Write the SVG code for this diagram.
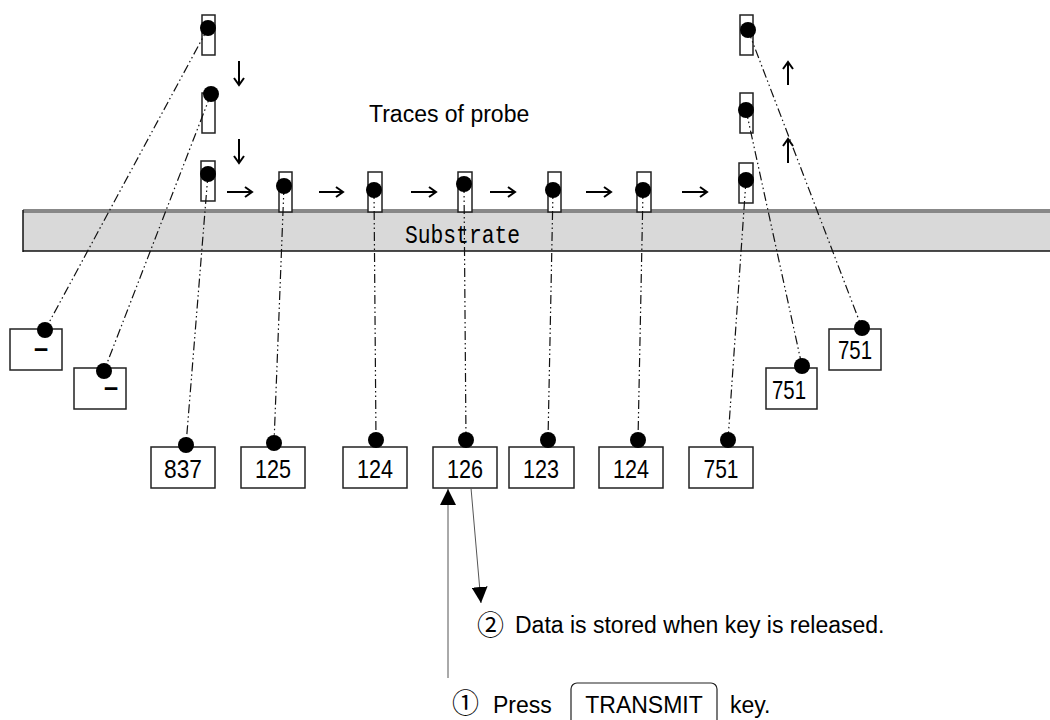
<svg xmlns="http://www.w3.org/2000/svg" width="1050" height="720" viewBox="0 0 1050 720">
  <defs>
    <style>
      .probe { fill: #fff; stroke: #222; stroke-width: 1.5; }
      .dot { fill: #000; }
      .box { fill: #fff; stroke: #222; stroke-width: 1.5; }
      .val { font-family: "Liberation Sans", "Noto Sans", sans-serif; font-size: 25px; fill: #000; text-anchor: middle; }
      .lbl { font-family: "Liberation Sans", "Noto Sans CJK JP", sans-serif; font-size: 23px; fill: #000; }
      .num { font-family: "Noto Sans CJK JP", sans-serif; font-size: 27px; fill: #000; }
      .trace { fill: none; stroke: #111; stroke-width: 1.2; stroke-dasharray: 9 3 1.5 3 1.5 3; }
      .move { fill: none; stroke: #000; stroke-width: 2; }
      .call { fill: none; stroke: #555; stroke-width: 1; }
    </style>
    <marker id="tri" viewBox="0 0 10 10" refX="10" refY="5" markerWidth="16" markerHeight="16" markerUnits="userSpaceOnUse" orient="auto">
      <path d="M0,0 L10,5 L0,10 Z" fill="#000"/>
    </marker>
  </defs>

  <rect width="1050" height="720" fill="#fff"/>

  <!-- substrate -->
  <g id="substrate">
    <rect x="23" y="211" width="1040" height="40" fill="#d9d9d9"/>
    <line x1="23" y1="211" x2="1050" y2="211" stroke="#888" stroke-width="4"/>
    <line x1="23" y1="251" x2="1050" y2="251" stroke="#111" stroke-width="1.5"/>
    <line x1="23" y1="210" x2="23" y2="252" stroke="#111" stroke-width="1.5"/>
    <text x="405" y="243" font-family="'Liberation Mono', 'DejaVu Sans Mono', monospace" font-size="26" textLength="115" lengthAdjust="spacingAndGlyphs">Substrate</text>
  </g>

  <!-- probe positions -->
  <g id="probes">
    <rect class="probe" x="202" y="15" width="13" height="40"/>
    <rect class="probe" x="202" y="93" width="13" height="40"/>
    <rect class="probe" x="201" y="161" width="14" height="40"/>
    <rect class="probe" x="279" y="172" width="13" height="40"/>
    <rect class="probe" x="368" y="172" width="14" height="40"/>
    <rect class="probe" x="458" y="172" width="14" height="40"/>
    <rect class="probe" x="548" y="172" width="13" height="40"/>
    <rect class="probe" x="637" y="172" width="14" height="40"/>
    <rect class="probe" x="739" y="163" width="14" height="40"/>
    <rect class="probe" x="740" y="93" width="13" height="40"/>
    <rect class="probe" x="740" y="15" width="13" height="40"/>
  </g>

  <text id="trace-label" class="lbl" x="369" y="122">Traces of probe</text>

  <!-- movement arrows -->
  <g id="moves" class="move">
    <path d="M239,61 V85 M234,78 L239,85 L244,78"/>
    <path d="M239,139 V163 M234,156 L239,163 L244,156"/>
    <path d="M227,192 H252 M245,187 L252,192 L245,197"/>
    <path d="M319,192 H343 M336,187 L343,192 L336,197"/>
    <path d="M411,192 H436 M429,187 L436,192 L429,197"/>
    <path d="M490,192 H515 M508,187 L515,192 L508,197"/>
    <path d="M586,192 H611 M604,187 L611,192 L604,197"/>
    <path d="M682,192 H707 M700,187 L707,192 L700,197"/>
    <path d="M788,85 V62 M783,69 L788,62 L793,69"/>
    <path d="M788,163 V139 M783,146 L788,139 L793,146"/>
  </g>

  <!-- value boxes -->
  <g id="box-1"><rect class="box" x="10" y="329" width="52" height="41"/><text class="val" x="41" y="358" font-weight="bold">−</text></g>
  <g id="box-2"><rect class="box" x="74" y="368" width="52" height="41"/><text class="val" x="111" y="397" font-weight="bold">−</text></g>
  <g id="box-837"><rect class="box" x="151" y="447" width="64" height="41"/><text class="val" x="183" y="478" textLength="38" lengthAdjust="spacingAndGlyphs">837</text></g>
  <g id="box-125"><rect class="box" x="241" y="447" width="64" height="41"/><text class="val" x="273" y="478" textLength="36" lengthAdjust="spacingAndGlyphs">125</text></g>
  <g id="box-124a"><rect class="box" x="343" y="447" width="64" height="41"/><text class="val" x="375" y="478" textLength="36" lengthAdjust="spacingAndGlyphs">124</text></g>
  <g id="box-126"><rect class="box" x="433" y="447" width="64" height="41"/><text class="val" x="465" y="478" textLength="36" lengthAdjust="spacingAndGlyphs">126</text></g>
  <g id="box-123"><rect class="box" x="509" y="447" width="65" height="41"/><text class="val" x="541" y="478" textLength="36" lengthAdjust="spacingAndGlyphs">123</text></g>
  <g id="box-124b"><rect class="box" x="599" y="447" width="64" height="41"/><text class="val" x="631" y="478" textLength="36" lengthAdjust="spacingAndGlyphs">124</text></g>
  <g id="box-751a"><rect class="box" x="689" y="447" width="64" height="41"/><text class="val" x="721" y="478" textLength="35" lengthAdjust="spacingAndGlyphs">751</text></g>
  <g id="box-751b"><rect class="box" x="766" y="368" width="51" height="41"/><text class="val" x="789" y="399" textLength="34" lengthAdjust="spacingAndGlyphs">751</text></g>
  <g id="box-751c"><rect class="box" x="829" y="329" width="52" height="41"/><text class="val" x="855" y="359" textLength="34" lengthAdjust="spacingAndGlyphs">751</text></g>

  <!-- probe-to-value traces -->
  <g id="connectors">
    <line class="trace" x1="208" y1="28" x2="45" y2="330"/>
    <line class="trace" x1="211" y1="94" x2="104" y2="371"/>
    <line class="trace" x1="208" y1="174" x2="186" y2="445"/>
    <line class="trace" x1="284" y1="186" x2="274" y2="443"/>
    <line class="trace" x1="374" y1="190" x2="376" y2="440"/>
    <line class="trace" x1="464" y1="184" x2="466" y2="440"/>
    <line class="trace" x1="553" y1="190" x2="548" y2="440"/>
    <line class="trace" x1="643" y1="190" x2="638" y2="440"/>
    <line class="trace" x1="746" y1="180" x2="728" y2="440"/>
    <line class="trace" x1="746" y1="110" x2="802" y2="366"/>
    <line class="trace" x1="748" y1="30" x2="862" y2="328"/>
    <line class="call" x1="448" y1="678" x2="448" y2="489" marker-end="url(#tri)"/>
    <line class="call" x1="471" y1="488" x2="481" y2="603" marker-end="url(#tri)"/>
  </g>

  <!-- probe tips and readout points -->
  <g id="dots" class="dot">
    <circle cx="208" cy="28" r="8"/>
    <circle cx="211" cy="94" r="8"/>
    <circle cx="208" cy="174" r="8"/>
    <circle cx="284" cy="186" r="8"/>
    <circle cx="374" cy="190" r="8"/>
    <circle cx="464" cy="184" r="8"/>
    <circle cx="553" cy="190" r="8"/>
    <circle cx="643" cy="190" r="8"/>
    <circle cx="746" cy="180" r="8"/>
    <circle cx="746" cy="110" r="8"/>
    <circle cx="748" cy="30" r="8"/>
    <circle cx="45" cy="330" r="8"/>
    <circle cx="104" cy="371" r="8"/>
    <circle cx="186" cy="445" r="8"/>
    <circle cx="274" cy="443" r="8"/>
    <circle cx="376" cy="440" r="8"/>
    <circle cx="466" cy="440" r="8"/>
    <circle cx="548" cy="440" r="8"/>
    <circle cx="638" cy="440" r="8"/>
    <circle cx="728" cy="440" r="8"/>
    <circle cx="802" cy="366" r="8"/>
    <circle cx="862" cy="328" r="8"/>
  </g>

  <!-- step notes -->
  <g id="note-2">
    <text class="num" x="477" y="635">②</text>
    <text class="lbl" x="515" y="633">Data is stored when key is released.</text>
  </g>
  <g id="note-1">
    <text class="num" x="452" y="713">①</text>
    <text class="lbl" x="493" y="713">Press</text>
    <rect x="571" y="683" width="146" height="48" rx="6" fill="none" stroke="#222" stroke-width="1.2"/>
    <text class="lbl" x="644" y="713" text-anchor="middle">TRANSMIT</text>
    <text class="lbl" x="730" y="713">key.</text>
  </g>
</svg>
